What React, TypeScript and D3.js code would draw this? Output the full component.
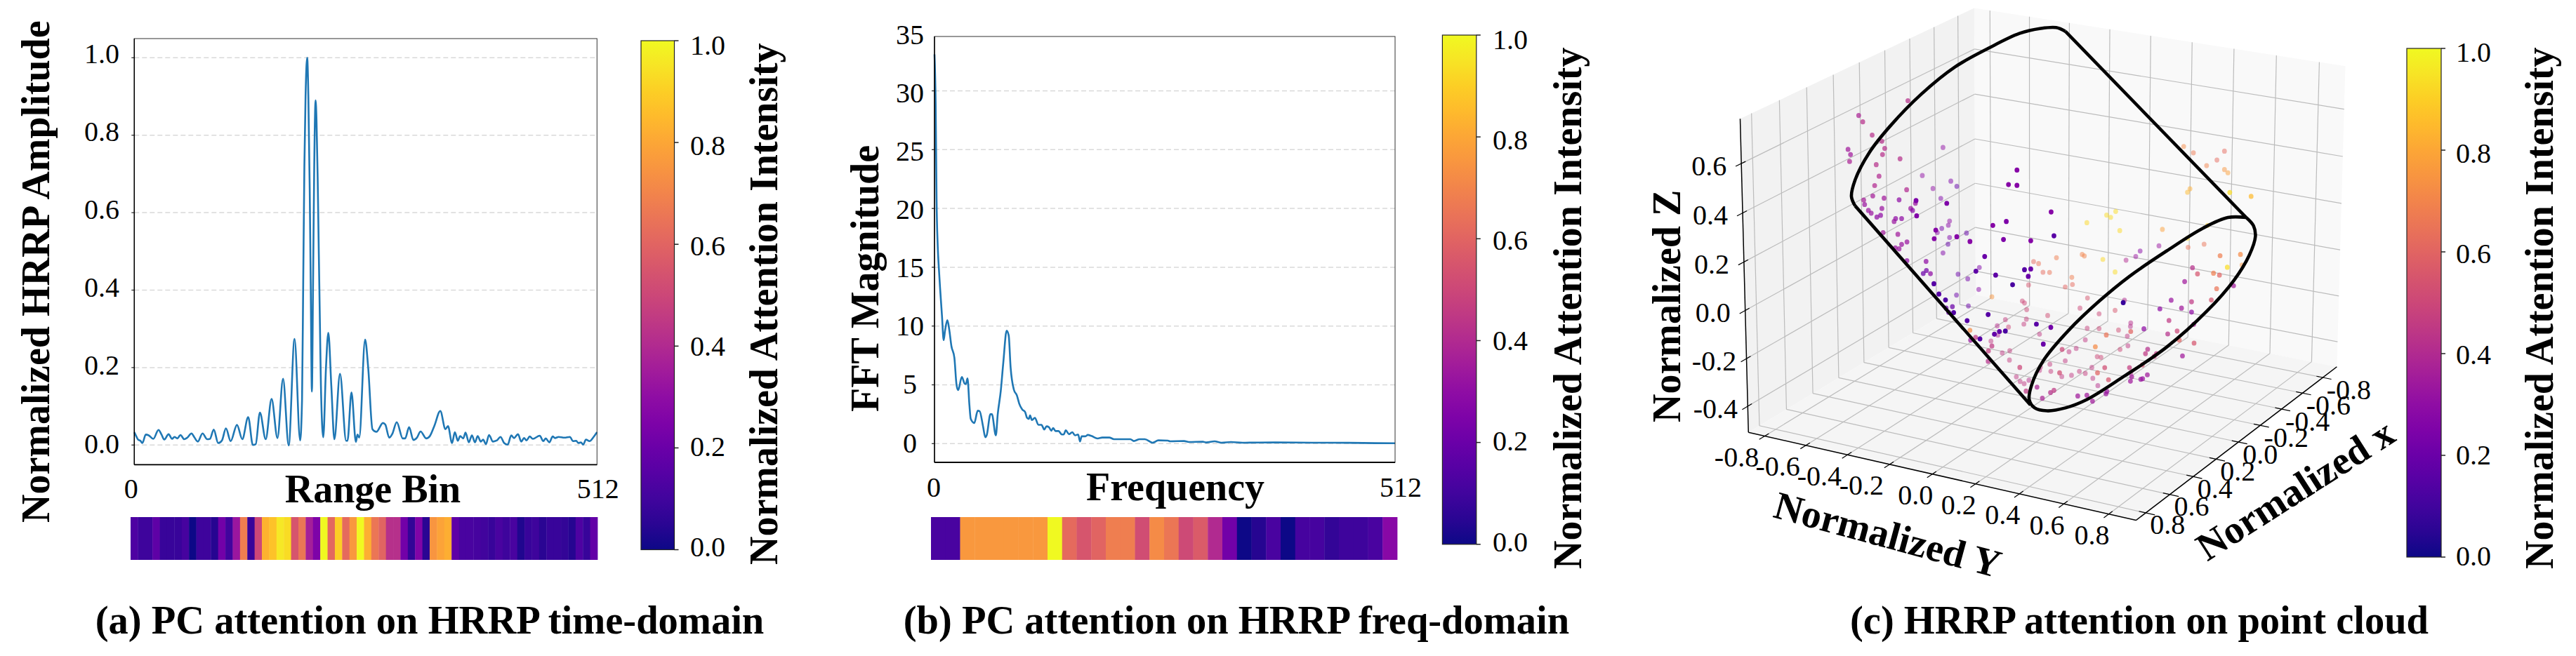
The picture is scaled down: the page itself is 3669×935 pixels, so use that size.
import React, { useMemo } from "react";
import * as d3 from "d3";

const FONT = "'Liberation Serif','Times New Roman',serif";

const timeProfile: [number, number][] = [
[0,.033],[2.1,.023],[4.2,.014],[6.8,.011],[8.9,.005],[12.7,.027],[15.9,.025],[21,.016],[26.8,.039],[30.1,.027],[33.2,.014],[37.9,.028],[41.8,.016],[44.4,.021],[47.7,.017],[51.1,.026],[55.2,.015],[58.6,.019],[63.3,.03],[66.4,.02],[70.3,.009],[75.5,.03],[80.6,.015],[83.7,.016],[87.9,.04],[92.8,.005],[97,.012],[101.4,.043],[106.6,.01],[113.6,.052],[119.5,.015],[126,.072],[131.2,0],[134.3,.002],[139,.084],[145.4,.015],[151.9,.119],[158.4,.018],[164.6,.171],[170.8,-.001],[177.3,.274],[183.5,.012],[185.6,.116],[186.9,.418],[188.2,.72],[189.5,.9],[191.3,1],[192.6,.9],[194.1,.66],[195.2,.418],[196.5,.138],[197.8,.418],[199.1,.72],[200.6,.89],[201.6,.84],[202.9,.69],[204.2,.49],[205.5,.298],[206.5,.153],[209.1,.02],[212.1,.2],[214.7,.29],[218,.153],[221.4,.015],[227.6,.184],[234.4,.011],[235.9,.011],[240.3,.136],[245.2,.008],[247,.027],[248.9,.019],[255.4,.272],[258.8,.2],[263.5,.041],[267.9,.034],[275.1,.057],[277.7,.053],[282.1,.019],[285.5,.029],[290.4,.059],[297.1,.017],[299.7,.017],[304.1,.046],[308.8,.013],[312.7,.019],[316.8,.035],[323,.017],[327,.023],[332.1,.05],[338.6,.088],[344.3,.041],[347.1,.049],[351.6,.005],[354.7,.033],[358,.011],[360.6,.023],[364,.017],[366.5,.032],[370.2,.007],[373.6,.025],[376.9,.007],[380,.023],[383.4,.009],[386,.014],[389.1,.002],[392.5,.026],[396.9,.009],[401.3,.012],[405.2,.021],[409.3,.005],[413.2,.001],[417.1,.025],[420.2,.018],[424.6,.028],[428.2,.009],[431.3,.018],[434,.012],[437.6,.022],[441,.016],[448.7,.024],[452.6,.01],[455.2,.017],[459.3,.007],[463,.022],[465.6,.018],[469.5,.021],[476,.019],[482,.021],[485.5,.01],[488.9,.011],[491.5,.005],[494.1,.007],[496.7,.001],[499.8,.014],[503.7,.01],[508.3,.021],[512,.033],
];

const freqProfile: [number, number][] = [
[0,33.1],[1.3,28.8],[2.3,20.8],[3.6,16.8],[4.9,14.85],[6.5,12.9],[8.3,10.9],[10.2,8.8],[11.7,9.6],[14.3,10.5],[16.4,9.7],[18.8,8.3],[22.1,7.3],[24.5,5],[26.3,4.55],[30.4,5.67],[33.6,5.1],[34.9,5.07],[36.7,5.55],[38.8,3.3],[40.3,2.1],[44.2,1.75],[48.1,2.8],[50.2,2.76],[53.9,1.5],[56.5,.54],[58,.7],[62.2,2.5],[63.8,2.5],[68.2,.7],[70.3,2.5],[73.7,4.5],[76.5,6.9],[80.2,9.6],[82.5,9.2],[84.6,6.5],[88.2,4.6],[91.6,4.1],[94.2,3.4],[97.6,2.9],[100.7,2.7],[102.8,2.2],[104.9,2.1],[106.2,2.4],[108.3,2],[111.6,2.2],[115.5,1.6],[118.9,1.6],[122,1.2],[124.6,1.47],[127.2,1.4],[129.8,1.1],[131.9,1.33],[134.5,1.07],[137.9,1.07],[141.5,.78],[143.6,.78],[145.9,1.13],[149.6,.8],[153.2,.97],[156.3,.7],[159.7,.78],[161.8,.18],[163.6,.62],[167.8,.62],[170.4,.74],[174.8,.64],[181.3,.44],[186.5,.52],[194.3,.52],[199.5,.38],[217.7,.38],[221.6,.22],[228.1,.38],[233.8,.38],[242.4,.08],[248.9,.28],[259.3,.26],[261.9,.2],[277.5,.22],[282.7,.14],[298.3,.16],[302.2,.1],[311.3,.2],[319.1,.08],[329.5,.14],[342.5,.08],[380,.1],[420,.08],[460,.07],[490,.04],[512,.03],
];

const timeAttention = [.13,.09,.09,.17,.08,.08,.08,.11,0,.09,.09,.04,.22,.1,.33,.68,.08,.5,.83,.87,.96,.93,.55,.66,.36,.25,1,.61,.9,.62,.76,1,.82,.66,.6,.42,.42,.22,.07,.26,.05,.75,.79,.82,.17,.12,.12,.11,.1,.08,.12,.09,.12,.03,.08,.09,.05,.08,.08,.07,.04,.13,.08,.18];
const freqAttention = [.12,.12,.76,.76,.76,.76,.76,.76,1,.62,.55,.6,.68,.68,.52,.72,.66,.51,.57,.4,.22,0,.04,.12,0,.11,.11,.07,.09,.09,.12,.28];

const timeTicks = [0,.2,.4,.6,.8,1];
const freqTicks = [0,5,10,15,20,25,30];
const barTicks = [0,.2,.4,.6,.8,1];
const axisTicks3D = [-.8,-.6,-.4,-.2,0,.2,.4,.6,.8];
const zTicks3D = [-.4,-.2,0,.2,.4,.6];

// scatter: horizontal, vertical reading, attention
const scatterDark: number[][] = [[723,406,.27],[696,465,.27],[723,468,.27],[832,576,.27],[646,631,.27],[689,615,.25],[680,688,.25],[767,693,.27],[841,673,.16],[620,757,.2],[747,811,.15],[767,808,.2],[759,838,.2],[655,833,.17],[709,872,.12],[1062,945,.08],[785,1032,.16],[831,1045,.22],[631,993,.15],[564,1018,.15],[686,1060,.12],[667,1062,.18],[651,1073,.18],[605,1092,.15],[807,1113,.2],[495,934,.13],[474,910,.15],[521,985,.14],[458,868,.15],[401,530,.25],[499,541,.25],[403,592,.26],[464,650,.27],[459,685,.27],[531,677,.27],[573,696,.28],[592,817,.17]];
const scatterMid: number[][] = [[375,124,.42],[218,184,.38],[231,210,.42],[261,264,.42],[292,289,.42],[301,318,.42],[184,322,.35],[192,343,.35],[294,343,.42],[189,371,.38],[350,360,.42],[274,384,.42],[283,431,.4],[269,469,.4],[371,486,.4],[263,511,.36],[299,520,.35],[234,528,.36],[237,546,.33],[347,527,.3],[399,541,.33],[384,562,.33],[390,570,.28],[292,562,.33],[249,570,.33],[258,581,.33],[276,597,.3],[288,590,.3],[336,603,.3],[331,615,.33],[355,603,.3],[296,660,.35],[343,667,.35],[372,698,.33],[355,708,.33],[347,726,.33],[335,722,.33],[372,774,.3],[433,777,.3],[434,814,.22],[424,826,.2],[447,827,.3],[517,961,.2],[497,967,.2],[505,984,.2],[1215,935,.33],[1280,941,.45],[1179,970,.3],[1248,967,.35],[1280,983,.3],[1343,934,.55],[1208,1017,.45],[1128,1051,.3],[1234,1060,.5],[1287,1033,.38],[1204,1072,.42],[1008,1076,.65],[1086,1062,.6],[1241,1097,.6],[1288,1109,.55],[973,1124,.72],[867,1135,.5],[1140,1134,.42],[1133,1152,.45],[1251,1161,.35],[1168,1152,.45],[1161,1163,.48],[1003,1209,.52],[1123,1198,.55],[1082,1209,.47],[732,1208,.5],[859,1230,.52],[980,1230,.6],[1139,1238,.35],[1089,1246,.35],[1015,1258,.55],[1118,1256,.33],[1124,1254,.33],[1085,1264,.35],[787,1288,.38],[1010,1305,.33],[1007,1315,.33],[917,1324,.35],[946,1321,.35],[804,1333,.38],[964,1345,.35],[1360,888,.65],[1414,876,.35],[1258,859,.35],[1283,803,.42],[1299,828,.55],[1369,833,.6],[1350,825,.68],[1371,754,.68],[1436,749,.72],[1470,513,.85],[1402,497,.93],[1394,801,.93],[591,1086,.45],[575,1097,.33],[573,1057,.72],[830,1310,.42],[841,1301,.45],[752,1304,.45],[632,1141,.47],[631,1183,.42],[643,1121,.45]];
const scatterPale: number[][] = [[487,314,.3],[421,428,.3],[512,451,.25],[531,472,.18],[455,481,.3],[480,521,.25],[508,613,.3],[504,630,.28],[483,643,.22],[469,660,.28],[508,680,.25],[562,662,.18],[503,707,.18],[487,743,.25],[535,829,.2],[603,802,.25],[566,848,.22],[601,891,.27],[530,914,.2],[568,958,.2],[1255,310,.72],[1286,336,.67],[1385,329,.62],[1361,365,.62],[1328,388,.7],[1385,404,.75],[1396,417,.78],[1275,482,.82],[1267,496,.85],[1038,574,.93],[1009,589,.93],[1022,598,.93],[946,620,.92],[1051,652,.92],[1187,647,.78],[1331,631,.9],[1267,683,.92],[1176,714,.33],[1116,735,.28],[1102,757,.33],[1071,772,.4],[1320,707,.65],[1269,720,.65],[931,749,.7],[938,755,.7],[997,769,.92],[849,762,.68],[776,778,.62],[792,786,.65],[1441,792,.75],[806,821,.62],[827,822,.65],[1036,820,.93],[760,873,.55],[898,842,.68],[900,871,.62],[877,881,.6],[643,921,.75],[948,926,.55],[740,938,.5],[747,946,.5],[1066,935,.4],[924,967,.5],[754,973,.5],[1036,976,.55],[985,990,.5],[821,997,.52],[753,1012,.48],[686,1014,.47],[1086,1027,.42],[1085,1041,.42],[745,1032,.47],[660,1039,.42],[696,1044,.5],[947,1049,.48],[985,1050,.5],[1047,1056,.52],[662,1077,.38],[795,1073,.45],[1075,1081,.45],[941,1096,.45],[640,1101,.45],[1077,1120,.45],[912,1131,.45],[1052,1135,.5],[700,1140,.47],[889,1144,.45],[676,1149,.45],[979,1164,.5],[991,1167,.5],[699,1178,.47],[877,1181,.45],[828,1195,.47],[962,1208,.45],[798,1207,.45],[795,1220,.45],[831,1224,.47],[922,1224,.47],[941,1232,.47],[1086,1230,.42],[866,1245,.45],[897,1240,.45],[965,1252,.45],[721,1246,.45],[761,1260,.42],[733,1265,.45],[746,1274,.45],[981,1282,.42]];

// cylinder outline
const cylSideA = [[678,968],[392,492]];
const cylSideB = [[735,75],[1030,520]];
const cylArc = [[392,492],[386,470],[392,430],[415,365],[450,300],[500,225],[555,160],[610,115],[660,80],[695,68],[720,66],[735,75]];
const cylRim = [[1030,520],[1042,540],[1045,565],[1035,610],[1010,670],[965,745],[900,830],[830,900],[770,955],[735,975],[705,982],[685,975],[676,955],[680,920],[700,860],[740,790],[790,720],[840,660],[900,600],[960,545],[1000,520],[1030,520]];

const Txt = (p: any) => <text fontFamily={FONT} fill="#000" {...p} />;
const Bold = (p: any) => <text fontFamily={FONT} fill="#000" fontWeight="bold" fontSize={56} {...p} />;

function Colorbar({ id, x0, x1, y0, y1, lx, l0, l1, labelX, labelY }: any) {
  const y = d3.scaleLinear().domain([0, 1]).range([y1, y0]);
  const ly = d3.scaleLinear().domain([0, 1]).range([l0, l1]);
  const stops = d3.range(0, 1.0001, 0.05);
  return (
    <g>
      <defs>
        <linearGradient id={id} x1="0" y1="1" x2="0" y2="0">
          {stops.map((s) => <stop key={s} offset={s} stopColor={d3.interpolatePlasma(s)} />)}
        </linearGradient>
      </defs>
      <rect x={x0} y={y0} width={x1 - x0} height={y1 - y0} fill={`url(#${id})`} stroke="#222" strokeWidth={1.2} />
      {barTicks.map((t) => (
        <g key={t}>
          <line x1={x1} x2={x1 + 6} y1={y(t)} y2={y(t)} stroke="#222" strokeWidth={1.5} />
          <Txt x={lx} y={ly(t)} fontSize={40} dominantBaseline="central">{t.toFixed(1)}</Txt>
        </g>
      ))}
      <Bold transform={`translate(${labelX},${labelY}) rotate(-90)`}>Normalized Attention Intensity</Bold>
    </g>
  );
}

function Heat({ values, x0, x1, y0, y1 }: any) {
  const x = d3.scaleBand<number>().domain(d3.range(values.length)).range([x0, x1]);
  return <g>{values.map((v: number, i: number) => (
    <rect key={i} x={x(i)} y={y0} width={x.bandwidth() + 0.4} height={y1 - y0} fill={d3.interpolatePlasma(v)} />
  ))}</g>;
}

function LinePanel({ data, ticks, x0, x1, top, bottom, v0, vRef, refY, labelR, labelFmt, labelY, tickX0, tickX512, tickBase, xLabel, xLabelX, xLabelBase, yLabel, yLabelX, yLabelY, anchor }: any) {
  const x = d3.scaleLinear().domain([0, 512]).range([x0, x1]);
  const y = d3.scaleLinear().domain([v0, vRef]).range([refY[0], refY[1]]);
  const line = d3.line<[number, number]>().x((d) => x(d[0])).y((d) => y(d[1])).curve(d3.curveMonotoneX);
  return (
    <g>
      {ticks.map((t: number) => (
        <g key={t}>
          <line x1={x0} x2={x1} y1={y(t)} y2={y(t)} stroke="#d9d9d9" strokeWidth={1.5} strokeDasharray="7 4" />
          <line x1={x0 - 4} x2={x0} y1={y(t)} y2={y(t)} stroke="#333" strokeWidth={1.3} />
        </g>
      ))}
      <path d={line(data) as string} fill="none" stroke="#1f77b4" strokeWidth={2.6} strokeLinejoin="round" />
      <rect x={x0} y={top} width={x1 - x0} height={bottom - top} fill="none" stroke="#333" strokeWidth={1} />
      <line x1={x0} x2={x1} y1={bottom} y2={bottom} stroke="#000" strokeWidth={1.8} />
      <line x1={x0} x2={x0} y1={top} y2={bottom} stroke="#000" strokeWidth={1.5} />
      {labelFmt.map((l: any) => (
        <Txt key={l.t} x={labelR} y={labelY(l.t)} fontSize={40} textAnchor={anchor} dominantBaseline="central">{l.s}</Txt>
      ))}
      <Txt x={tickX0} y={tickBase} fontSize={40} textAnchor="middle">0</Txt>
      <Txt x={tickX512} y={tickBase} fontSize={40} textAnchor="middle">512</Txt>
      <Bold x={xLabelX} y={xLabelBase} textAnchor="middle">{xLabel}</Bold>
      <Bold transform={`translate(${yLabelX},${yLabelY}) rotate(-90)`}>{yLabel}</Bold>
    </g>
  );
}

// ---- 3D projection fitted to the box corners ----
const xLim = [-0.94, 0.88];
const yLim = [-0.88, 0.92];
const zLim = [-0.51, 0.78];
type V3 = [number, number, number];

function fitProjection(): (p: V3) => [number, number] {
  const c: [V3, [number, number]][] = [
    [[xLim[0], yLim[0], zLim[0]], [2813, 423]],
    [[xLim[0], yLim[0], zLim[1]], [2811, 11]],
    [[xLim[1], yLim[0], zLim[0]], [2492, 616]],
    [[xLim[1], yLim[0], zLim[1]], [2479, 167]],
    [[xLim[0], yLim[1], zLim[0]], [3330, 518]],
    [[xLim[0], yLim[1], zLim[1]], [3341, 97]],
    [[xLim[1], yLim[1], zLim[0]], [3040, 744]],
  ];
  const rows: number[][] = [];
  const rhs: number[] = [];
  c.forEach(([[X, Y, Z], [u0, v0]]) => {
    const u = u0 / 1000, v = v0 / 1000;
    rows.push([X, Y, Z, 1, 0, 0, 0, 0, -u * X, -u * Y, -u * Z]); rhs.push(u);
    rows.push([0, 0, 0, 0, X, Y, Z, 1, -v * X, -v * Y, -v * Z]); rhs.push(v);
  });
  const n = 11;
  const A = d3.range(n).map((i) => {
    const r = d3.range(n).map((j) => d3.sum(rows, (w) => w[i] * w[j]));
    r.push(d3.sum(rows, (w, k) => w[i] * rhs[k]));
    return r;
  });
  for (let i = 0; i < n; i++) {
    let m = i;
    for (let k = i + 1; k < n; k++) if (Math.abs(A[k][i]) > Math.abs(A[m][i])) m = k;
    [A[i], A[m]] = [A[m], A[i]];
    for (let k = 0; k < n; k++) {
      if (k === i) continue;
      const f = A[k][i] / A[i][i];
      for (let j = i; j <= n; j++) A[k][j] -= f * A[i][j];
    }
  }
  const p = d3.range(n).map((i) => A[i][n] / A[i][i]);
  return ([X, Y, Z]) => {
    const w = p[8] * X + p[9] * Y + p[10] * Z + 1;
    return [
      1000 * (p[0] * X + p[1] * Y + p[2] * Z + p[3]) / w,
      1000 * (p[4] * X + p[5] * Y + p[6] * Z + p[7]) / w,
    ];
  };
}

function Box3D() {
  const P = useMemo(fitProjection, []);
  const poly = (pts: V3[]) => pts.map((q) => P(q).join(",")).join(" ");
  const seg = (a: V3, b: V3, key: string, stroke = "#bcbcbc", w = 1.2) => {
    const [x1, y1] = P(a), [x2, y2] = P(b);
    return <line key={key} x1={x1} y1={y1} x2={x2} y2={y2} stroke={stroke} strokeWidth={w} />;
  };
  const [x0, x1] = xLim, [y0, y1] = yLim, [z0, z1] = zLim;
  const u = d3.scaleLinear().domain([0, 1568]).range([2550, 3250]);
  const v = d3.scaleLinear().domain([0, 1568]).range([100, 650]);
  const cu = d3.scaleLinear().domain([0, 1568]).range([2300, 3669]);
  const cv = d3.scaleLinear().domain([0, 1568]).range([0, 935]);
  const smooth = d3.line<number[]>().x((d) => cu(d[0])).y((d) => cv(d[1])).curve(d3.curveCatmullRom.alpha(0.5));
  const straightPath = (pts: number[][]) => d3.line<number[]>().x((d) => cu(d[0])).y((d) => cv(d[1]))(pts) as string;
  const dots = (pts: number[][], op: number, k: string) => pts.map((q, i) => (
    <ellipse key={k + i} cx={u(q[0])} cy={v(q[1])} rx={3.4} ry={3.6} fill={d3.interpolatePlasma(q[2])} fillOpacity={op} />
  ));
  return (
    <g>
      <polygon points={poly([[x0,y0,z0],[x1,y0,z0],[x1,y0,z1],[x0,y0,z1]])} fill="#f2f2f2" />
      <polygon points={poly([[x0,y0,z0],[x0,y1,z0],[x0,y1,z1],[x0,y0,z1]])} fill="#f9f9f9" />
      <polygon points={poly([[x0,y0,z0],[x1,y0,z0],[x1,y1,z0],[x0,y1,z0]])} fill="#f5f5f5" />
      {axisTicks3D.map((t) => seg([t,y0,z0],[t,y0,z1],`xw${t}`))}
      {axisTicks3D.map((t) => seg([t,y0,z0],[t,y1,z0],`xf${t}`))}
      {axisTicks3D.map((t) => seg([x0,t,z0],[x0,t,z1],`yw${t}`))}
      {axisTicks3D.map((t) => seg([x0,t,z0],[x1,t,z0],`yf${t}`))}
      {zTicks3D.map((t) => seg([x1,y0,t],[x0,y0,t],`zl${t}`))}
      {zTicks3D.map((t) => seg([x0,y0,t],[x0,y1,t],`zr${t}`))}
      {seg([x1,y0,z0],[x1,y1,z0],"ay","#000",1.5)}
      {seg([x0,y1,z0],[x1,y1,z0],"ax","#000",1.5)}
      {seg([x1,y0,z0],[x1,y0,z1],"az","#000",1.5)}
      {axisTicks3D.map((t) => seg([x1-0.03,t,z0],[x1+0.04,t,z0],`ty${t}`,"#000",1.2))}
      {axisTicks3D.map((t) => seg([t,y1-0.03,z0],[t,y1+0.04,z0],`tx${t}`,"#000",1.2))}
      {zTicks3D.map((t) => seg([x1-0.03,y0,t],[x1+0.04,y0,t],`tz${t}`,"#000",1.2))}
      {dots(scatterPale, 0.5, "p")}
      {dots(scatterMid, 0.72, "m")}
      {dots(scatterDark, 1, "d")}
      <path d={straightPath(cylSideA)} fill="none" stroke="#000" strokeWidth={4.6} />
      <path d={straightPath(cylSideB)} fill="none" stroke="#000" strokeWidth={4.6} />
      <path d={smooth(cylArc) as string} fill="none" stroke="#000" strokeWidth={4.6} />
      <path d={smooth(cylRim) as string} fill="none" stroke="#000" strokeWidth={4.6} />
      {axisTicks3D.map((t) => {
        const [a, b] = P([x1, t, z0]);
        return <Txt key={`ly${t}`} x={a - 24 - (t < 0 ? 16 : 0)} y={b + 30} fontSize={40} textAnchor="middle" dominantBaseline="central">{t.toFixed(1)}</Txt>;
      })}
      {axisTicks3D.map((t) => {
        const [a, b] = P([t, y1, z0]);
        return <Txt key={`lx${t}`} x={a + 31 + (t < 0 ? 6 : 0)} y={b + 17} fontSize={40} textAnchor="middle" dominantBaseline="central">{t.toFixed(1)}</Txt>;
      })}
      {zTicks3D.map((t) => {
        const [a, b] = P([x1, y0, t]);
        return <Txt key={`lz${t}`} x={a - 46} y={b + 3} fontSize={40} textAnchor="middle" dominantBaseline="central">{t.toFixed(1)}</Txt>;
      })}
      <Bold transform="translate(2689,762) rotate(15.2)" textAnchor="middle" dominantBaseline="central">Normalized Y</Bold>
      <Bold transform="translate(3269,698) rotate(-32.6)" textAnchor="middle" dominantBaseline="central">Normalized x</Bold>
      <Bold transform="translate(2393,602) rotate(-90)">Normalized Z</Bold>
    </g>
  );
}

export default function App() {
  const aLabelY = d3.scaleLinear().domain([0, 1]).range([632, 76]);
  const bLabelY = d3.scaleLinear().domain([0, 35]).range([631, 49]);
  return (
    <svg width={3669} height={935} viewBox="0 0 3669 935" style={{ position: "absolute", left: 0, top: 0, background: "#fff" }}>
      <LinePanel data={timeProfile} ticks={timeTicks} x0={191.3} x1={850.3} top={55} bottom={662.3}
        v0={0} vRef={1} refY={[634.3, 82.3]} labelR={170} anchor="end"
        labelFmt={timeTicks.map((t) => ({ t, s: t.toFixed(1) }))} labelY={aLabelY}
        tickX0={186.7} tickX512={851.8} tickBase={709.6} xLabel="Range Bin" xLabelX={531} xLabelBase={715.6}
        yLabel="Normalized HRRP Amplitude" yLabelX={70} yLabelY={745} />
      <Heat values={timeAttention} x0={186} x1={851} y0={737} y1={798} />
      <Colorbar id="cbA" x0={913} x1={960.5} y0={58} y1={783.5} lx={983} l0={779} l1={64.5} labelX={1107} labelY={805} />
      <Txt x={612} y={903} fontSize={56.5} fontWeight="bold" textAnchor="middle">(a) PC attention on HRRP time-domain</Txt>

      <LinePanel data={freqProfile} ticks={freqTicks} x0={1331} x1={1987} top={52} bottom={659}
        v0={0} vRef={30} refY={[632.3, 129.5]} labelR={1296} anchor="middle"
        labelFmt={[...freqTicks, 35].map((t) => ({ t, s: String(t) }))} labelY={bLabelY}
        tickX0={1330} tickX512={1995} tickBase={708} xLabel="Frequency" xLabelX={1674} xLabelBase={712.6}
        yLabel="FFT Magnitude" yLabelX={1250.5} yLabelY={587} />
      <Heat values={freqAttention} x0={1326} x1={1990} y0={737} y1={798} />
      <Colorbar id="cbB" x0={2054.4} x1={2102.8} y0={50} y1={775.8} lx={2126} l0={772} l1={56.6} labelX={2252} labelY={811} />
      <Txt x={1761} y={903} fontSize={56.5} fontWeight="bold" textAnchor="middle">(b) PC attention on HRRP freq-domain</Txt>

      <Box3D />
      <Colorbar id="cbC" x0={3428} x1={3477} y0={69} y1={794} lx={3498} l0={792} l1={74.5} labelX={3636} labelY={811} />
      <Txt x={3047} y={903} fontSize={56.5} fontWeight="bold" textAnchor="middle">(c) HRRP attention on point cloud</Txt>
    </svg>
  );
}
